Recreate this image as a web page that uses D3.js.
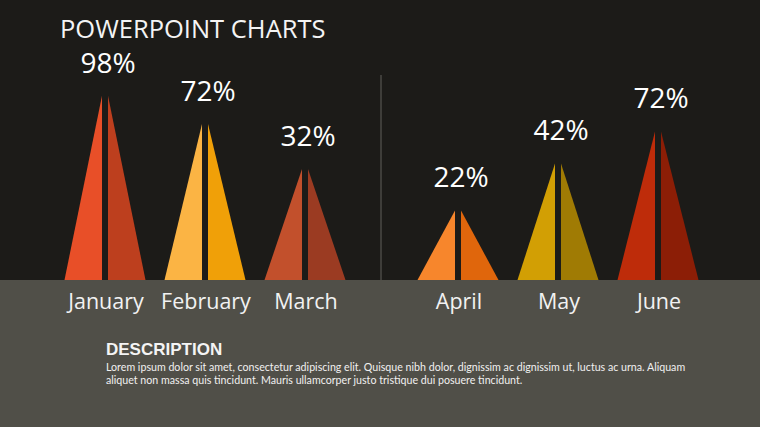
<!DOCTYPE html>
<html><head><meta charset="utf-8">
<script src="https://cdn.jsdelivr.net/npm/d3@7"></script>
<style>html,body{margin:0;padding:0;background:#1c1b18;} svg{display:block}</style>
</head><body>
<svg id="c" width="760" height="427"></svg>
<script>
// ---- data ----
const title = "POWERPOINT CHARTS";
const months = ["January", "February", "March", "April", "May", "June"];
const groups = ["H1", "H1", "H1", "H2", "H2", "H2"];
const values = [98, 72, 32, 22, 42, 72];          // printed percentages
const peaks = [98, 83, 59, 37, 62, 79];           // drawn triangle heights
const leftColors = ["#e84f28", "#fbb444", "#c2502c", "#f7862c", "#d29f04", "#be2c0a"];
const rightColors = ["#bd3f1e", "#f0a008", "#9b3b22", "#e0660c", "#a07b04", "#8c1e06"];
const descTitle = "DESCRIPTION";
const descLines = [
  "Lorem ipsum dolor sit amet, consectetur adipiscing elit. Quisque nibh dolor, dignissim ac dignissim ut, luctus ac urna. Aliquam",
  "aliquet non massa quis tincidunt. Mauris ullamcorper justo tristique dui posuere tincidunt."
];

// ---- layout ----
const W = 760, H = 427, base = 280;
const svg = d3.select("#c");

svg.append("rect").attr("x", 0).attr("y", 0).attr("width", W).attr("height", base).attr("fill", "#1c1b18");
svg.append("rect").attr("x", 0).attr("y", base).attr("width", W).attr("height", H - base).attr("fill", "#504f48");

const y = d3.scaleLinear().domain([0, 100]).range([base, 92]);
const gx = d3.scalePoint().domain(["H1", "H2"]).range([205, 558]);
const ix = d3.scalePoint().domain([0, 1, 2]).range([-100, 100]);
const cx = i => gx(groups[i]) + ix(i % 3);

const hw = 37.5, gap = 6;

// divider
svg.append("line")
  .attr("x1", (gx("H1") + gx("H2")) / 2 - 0.5).attr("x2", (gx("H1") + gx("H2")) / 2 - 0.5)
  .attr("y1", y(109)).attr("y2", base)
  .attr("stroke", "#4a4a44").attr("stroke-width", 1.5);

const idx = d3.range(months.length);
const tri = svg.append("g");
tri.selectAll("path.l").data(idx).join("path").attr("class", "l")
  .attr("d", i => {
    const c = cx(i), e = c - gap / 2;
    return d3.line()([[e - hw, base], [e, base], [e, y(peaks[i])]]) + "Z";
  })
  .attr("fill", i => leftColors[i]);
tri.selectAll("path.r").data(idx).join("path").attr("class", "r")
  .attr("d", i => {
    const c = cx(i), e = c + gap / 2;
    return d3.line()([[e, base], [e + hw, base], [e, y(peaks[i])]]) + "Z";
  })
  .attr("fill", i => rightColors[i]);

// percent labels
svg.append("g").selectAll("text").data(idx).join("text")
  .attr("x", i => cx(i) + 3)
  .attr("y", i => y(peaks[i]) - 23)
  .attr("text-anchor", "middle")
  .attr("font-family", "'Open Sans', sans-serif")
  .attr("font-size", 28)
  .attr("fill", "#ffffff")
  .text(i => values[i] + "%");

// month labels
svg.append("g").selectAll("text").data(idx).join("text")
  .attr("x", i => cx(i) + 1)
  .attr("y", 309)
  .attr("text-anchor", "middle")
  .attr("font-family", "'Open Sans', sans-serif")
  .attr("font-size", 21.5)
  .attr("fill", "#f2f2f2")
  .text(i => months[i]);

// title
svg.append("text")
  .attr("x", 60).attr("y", 38)
  .attr("font-family", "'Open Sans', sans-serif")
  .attr("font-size", 25.5)
  .attr("fill", "#f4f4f4")
  .text(title);

// description
svg.append("text")
  .attr("x", 106).attr("y", 354.5)
  .attr("font-family", "'Liberation Sans', Arial, sans-serif")
  .attr("font-weight", "bold")
  .attr("font-size", 17)
  .attr("fill", "#f4f4f4")
  .text(descTitle);

svg.append("g").selectAll("text").data(descLines).join("text")
  .attr("x", 106)
  .attr("y", (d, i) => 371 + i * 13)
  .attr("font-family", "Lato, sans-serif")
  .attr("font-size", 10.65)
  .attr("fill", "#f0f0f0")
  .text(d => d);
</script>
</body></html>
